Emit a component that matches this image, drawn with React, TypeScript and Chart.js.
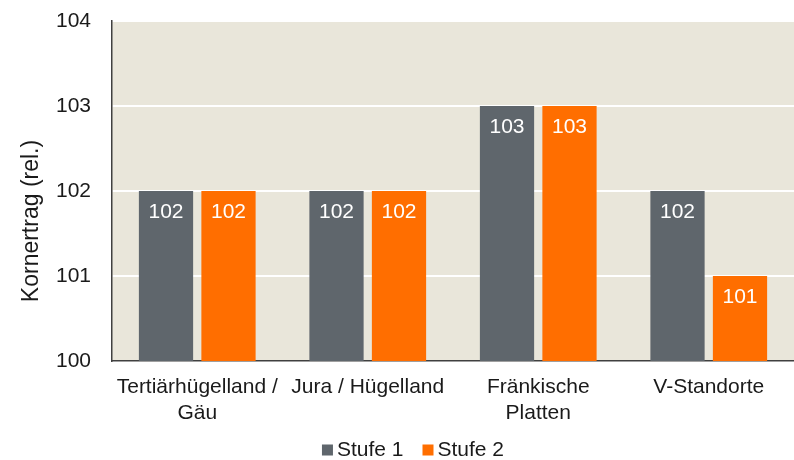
import React, { useEffect, useRef } from "react";
import { Chart, registerables } from "chart.js";

Chart.register(...registerables);

const categories: (string | string[])[] = [
  ["Tertiärhügelland /", "Gäu"],
  "Jura / Hügelland",
  ["Fränkische", "Platten"],
  "V-Standorte",
];
const stufe1 = [102, 102, 103, 102];
const stufe2 = [102, 102, 103, 101];
const seriesNames = ["Stufe 1", "Stufe 2"];
const yTicks = [100, 101, 102, 103, 104];
const yTitle = "Kornertrag (rel.)";

const FONT = "'Liberation Sans', Arial, sans-serif";
const TXT = "#1a1a1a";

const bgPlugin = {
  id: "plotBg",
  beforeDraw(chart: any) {
    const { ctx, chartArea } = chart;
    ctx.save();
    ctx.fillStyle = "#E9E6DA";
    ctx.fillRect(chartArea.left, chartArea.top, chartArea.right - chartArea.left, chartArea.bottom - chartArea.top);
    ctx.restore();
  },
};

const labelPlugin = {
  id: "valueLabels",
  afterDatasetsDraw(chart: any) {
    const { ctx } = chart;
    ctx.save();
    ctx.fillStyle = "#FFFFFF";
    ctx.font = `21px ${FONT}`;
    ctx.textAlign = "center";
    ctx.textBaseline = "middle";
    chart.data.datasets.forEach((ds: any, i: number) => {
      const meta = chart.getDatasetMeta(i);
      meta.data.forEach((bar: any, j: number) => {
        ctx.fillText(String(ds.data[j]), bar.x, bar.y + 21);
      });
    });
    ctx.restore();
  },
};

const titlePlugin = {
  id: "yTitle",
  afterDraw(chart: any) {
    const { ctx } = chart;
    ctx.save();
    ctx.font = `23px ${FONT}`;
    ctx.fillStyle = TXT;
    ctx.textAlign = "center";
    ctx.textBaseline = "middle";
    ctx.translate(32, 221);
    ctx.rotate(-Math.PI / 2);
    ctx.fillText(yTitle, 0, 0);
    ctx.restore();
  },
};

const legendPlugin = {
  id: "customLegend",
  afterDraw(chart: any) {
    const { ctx } = chart;
    ctx.save();
    ctx.font = `21px ${FONT}`;
    ctx.textBaseline = "middle";
    const box = 11;
    const gapBoxText = 4;
    const gapItems = 19;
    const items = chart.data.datasets.map((ds: any) => ({
      label: ds.label,
      color: ds.backgroundColor,
      w: box + gapBoxText + ctx.measureText(ds.label).width,
    }));
    const total = items.reduce((s: number, it: any) => s + it.w, 0) + gapItems * (items.length - 1);
    let x = (chart.width - total) / 2 + 16;
    const y = 450;
    items.forEach((it: any) => {
      ctx.fillStyle = it.color;
      ctx.fillRect(x, y - box / 2, box, box);
      ctx.fillStyle = TXT;
      ctx.fillText(it.label, x + box + gapBoxText, y);
      x += it.w + gapItems;
    });
    ctx.restore();
  },
};

export default function App() {
  const ref = useRef<HTMLCanvasElement>(null);
  useEffect(() => {
    document.body.style.margin = "0";
    const chart = new Chart(ref.current!, {
      type: "bar",
      data: {
        labels: categories,
        datasets: [
          { label: seriesNames[0], data: stufe1, backgroundColor: "#5F666C" },
          { label: seriesNames[1], data: stufe2, backgroundColor: "#FF6E00" },
        ],
      },
      plugins: [bgPlugin, labelPlugin, legendPlugin, titlePlugin],
      options: {
        animation: false,
        responsive: false,
        devicePixelRatio: 1,
        layout: { padding: { left: 0, right: 0, top: 21, bottom: 0 } },
        datasets: { bar: { categoryPercentage: 0.733, barPercentage: 0.868 } },
        scales: {
          x: {
            afterFit(axis: any) {
              axis.height = 99;
            },
            grid: { display: false },
            border: { display: true, color: "#404040", width: 1.5 },
            ticks: { color: TXT, font: { size: 21, family: FONT }, padding: 6, maxRotation: 0, autoSkip: false },
          },
          y: {
            min: 100,
            max: 104,
            afterBuildTicks(axis: any) {
              axis.ticks = yTicks.map((v) => ({ value: v }));
            },
            afterFit(axis: any) {
              axis.width = 112;
            },
            grid: { color: "#FFFFFF", lineWidth: 2, drawTicks: true, tickLength: 21, tickColor: "rgba(0,0,0,0)" },
            border: { display: true, color: "#404040", width: 1.5 },
            ticks: { color: TXT, font: { size: 21, family: FONT }, padding: 0 },
          },
        },
        plugins: {
          legend: { display: false },
          tooltip: { enabled: false },
        },
      },
    });
    return () => chart.destroy();
  }, []);
  return <canvas ref={ref} width={794} height={460} style={{ display: "block" }} />;
}
